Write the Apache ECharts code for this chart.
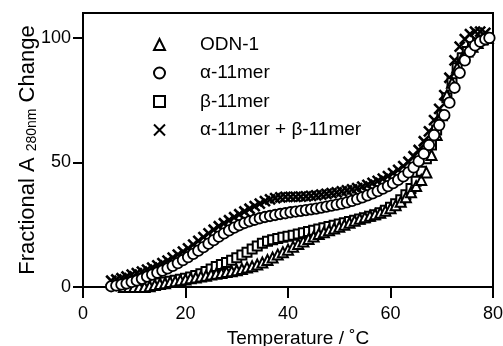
<!DOCTYPE html>
<html><head><meta charset="utf-8">
<script src="https://cdn.jsdelivr.net/npm/echarts@6/dist/echarts.min.js"></script>
<style>html,body{margin:0;padding:0;background:#fff}#c{width:503px;height:346px}</style>
</head><body><div id="c"></div>
<script>
const seriesNames = ['ODN-1', 'α-11mer', 'β-11mer', 'α-11mer + β-11mer'];
const xTicks = [0, 20, 40, 60, 80];
const yTicks = [0, 50, 100];

const odn1 = [[8,0],[9,0],[10,0],[11,0],[12,0],[13,0.3],[14,0.8],[15,1.2],[16,1.5],[17,2],[18,2.3],[19,2.7],[20,3],[21,3.5],[22,3.8],[23,4.2],[24,4.5],[25,5],[26,5.3],[27,5.6],[28,6],[29,6.3],[30,6.7],[31,7.2],[32,7.8],[33,8.3],[34,9],[35,9.8],[36,10.8],[37,11.8],[38,13],[39,14],[40,15],[41,16.2],[42,17.3],[43,18.3],[44,19.3],[45,20.3],[46,21.3],[47,22],[48,22.8],[49,23.5],[50,24.2],[51,25],[52,25.8],[53,26.6],[54,27.4],[55,28],[56,28.6],[57,29.2],[58,29.8],[59,30.6],[60,31.6],[61,32.8],[62,34.2],[63,36],[64,38],[65,40.5],[66,43],[67,46],[68,53],[69,61],[70,69],[71,77],[72,82],[73,88],[74,92],[75,94.5],[76,96.5],[77,98],[78,99.5],[79,100]];

const alpha = [[5.5,0.3],[6.5,0.6],[7.5,1],[8.5,1.4],[9.5,2],[10.5,2.6],[11.5,3.3],[12.5,4.2],[13.5,5],[14.5,5.8],[15.5,6.6],[16.5,7.5],[17.5,8.5],[18.5,9.6],[19.5,10.8],[20.5,12],[21.5,13.3],[22.5,14.6],[23.5,16],[24.5,17.4],[25.5,18.8],[26.5,20.2],[27.5,21.5],[28.5,22.7],[29.5,23.8],[30.5,24.8],[31.5,25.7],[32.5,26.4],[33.5,27],[34.5,27.6],[35.5,28.1],[36.5,28.5],[37.5,28.9],[38.5,29.3],[39.5,29.6],[40.5,30],[41.5,30.3],[42.5,30.6],[43.5,30.9],[44.5,31.2],[45.5,31.5],[46.5,31.9],[47.5,32.3],[48.5,32.7],[49.5,33.1],[50.5,33.5],[51.5,34],[52.5,34.6],[53.5,35.3],[54.5,36],[55.5,36.8],[56.5,37.6],[57.5,38.5],[58.5,39.5],[59.5,40.5],[60.5,41.7],[61.5,43],[62.5,44.4],[63.5,46],[64.5,48],[65.5,50.5],[66.5,53.5],[67.5,57],[68.5,61],[69.5,65],[70.5,69],[71.5,74],[72.5,80],[73.5,86],[74.5,91],[75.5,94.5],[76.5,97],[77.5,98.5],[78.5,99.5],[79.3,100]];

const beta = [[8,0],[9,0.2],[10,0.4],[11,0.6],[12,0.8],[13,1],[14,1.3],[15,1.6],[16,2],[17,2.3],[18,2.7],[19,3.1],[20,3.5],[21,4],[22,4.6],[23,5.3],[24,6.2],[25,7.2],[26,8.2],[27,9],[28,9.8],[29,10.7],[30,11.7],[31,12.8],[32,14],[33,15.3],[34,16.5],[35,17.6],[36,18.4],[37,19],[38,19.5],[39,20],[40,20.4],[41,20.8],[42,21.3],[43,21.8],[44,22.3],[45,22.8],[46,23.3],[47,23.8],[48,24.3],[49,24.8],[50,25.3],[51,25.8],[52,26.3],[53,26.8],[54,27.3],[55,27.8],[56,28.4],[57,29],[58,29.8],[59,30.8],[60,32],[61,33.4],[62,35],[63,37],[64,39.5],[65,42.5],[66,46.5],[67,51.5],[68,57],[69,63],[70,69],[71,76],[72,82],[73,88],[74,92],[75,94.5],[76,96.5],[77,98],[78,99.2],[79,100]];

const mix = [[5.5,2.5],[6.5,3],[7.5,3.5],[8.5,4.2],[9.5,5],[10.5,5.6],[11.5,6.2],[12.5,7],[13.5,7.8],[14.5,8.7],[15.5,9.6],[16.5,10.6],[17.5,11.8],[18.5,13],[19.5,14.2],[20.5,15.5],[21.5,17],[22.5,18.5],[23.5,20],[24.5,21.5],[25.5,23],[26.5,24.4],[27.5,25.6],[28.5,26.8],[29.5,28],[30.5,29.2],[31.5,30.3],[32.5,31.4],[33.5,32.5],[34.5,33.5],[35.5,34.5],[36.5,35.2],[37.5,35.7],[38.5,36],[39.5,36.2],[40.5,36.2],[41.5,36.2],[42.5,36.3],[43.5,36.4],[44.5,36.6],[45.5,36.8],[46.5,37.1],[47.5,37.4],[48.5,37.7],[49.5,38],[50.5,38.4],[51.5,38.8],[52.5,39.2],[53.5,39.7],[54.5,40.3],[55.5,41],[56.5,41.8],[57.5,42.6],[58.5,43.5],[59.5,44.5],[60.5,45.7],[61.5,47],[62.5,48.5],[63.5,50.3],[64.5,52.5],[65.5,55],[66.5,58.5],[67.5,62.5],[68.5,67],[69.5,71.5],[70.5,77],[71.5,84],[72.5,91],[73.5,96.5],[74.5,99.5],[75.5,101.5],[76.5,102.5],[77.5,102.5],[78.5,102]];

const FONT = 'Liberation Sans, Arial, Helvetica, sans-serif';
const chart = echarts.init(document.getElementById('c'), null, {renderer: 'canvas'});
const mk = (name, data, symbol, size, fill, bw) => ({
  name, type: 'scatter', data, symbol, symbolSize: size,
  itemStyle: {color: fill, borderColor: '#000', borderWidth: bw, opacity: 1},
  emphasis: {disabled: true}, animation: false
});
chart.setOption({
  animation: false,
  grid: {left: 83, right: 10, top: 13, bottom: 59, show: true, borderColor: '#000', borderWidth: 2,
    backgroundColor: 'transparent', containLabel: false, outerBoundsMode: 'none'},
  legend: {
    data: seriesNames, orient: 'vertical', left: 148, top: 30, itemGap: 9.5,
    itemWidth: 11, itemHeight: 11,
    textStyle: {fontFamily: FONT, fontSize: 19, color: '#000', padding: [0, 0, 0, 30]}
  },
  xAxis: {
    type: 'value', min: 0, max: 80, interval: 20,
    name: 'Temperature / ˚C', nameLocation: 'middle', nameGap: 42, nameMoveOverlap: false,
    nameTextStyle: {fontFamily: FONT, fontSize: 19, color: '#000', padding: [0, 0, 0, 20]},
    axisLine: {show: true, lineStyle: {color: '#000', width: 2}},
    axisTick: {show: true, inside: false, length: 11, lineStyle: {color: '#000', width: 2}},
    axisLabel: {fontFamily: FONT, fontSize: 18, color: '#000', margin: 18},
    splitLine: {show: false}
  },
  yAxis: {
    type: 'value', min: 0, max: 110,
    name: 'Fractional A{sub|280nm} Change', nameLocation: 'middle', nameGap: 44, nameMoveOverlap: false,
    nameTextStyle: {fontFamily: FONT, fontSize: 22, color: '#000',
      rich: {sub: {fontFamily: FONT, fontSize: 14, color: '#000', verticalAlign: 'bottom', padding: [0, 0, 0, 6]}}},
    axisLine: {show: true, lineStyle: {color: '#000', width: 2}},
    axisTick: {show: true, inside: false, length: 10, customValues: yTicks, lineStyle: {color: '#000', width: 2}},
    axisLabel: {fontFamily: FONT, fontSize: 18, color: '#000', margin: 12, customValues: yTicks},
    splitLine: {show: false}
  },
  series: [
    mk(seriesNames[3], mix, 'path://M0,0L10,10M10,0L0,10', 10, 'transparent', 2.6),
    mk(seriesNames[2], beta, 'rect', 9, '#fff', 2),
    mk(seriesNames[0], odn1, 'triangle', 10, '#fff', 2),
    mk(seriesNames[1], alpha, 'circle', 10.5, '#fff', 1.8)
  ]
});
</script></body></html>
